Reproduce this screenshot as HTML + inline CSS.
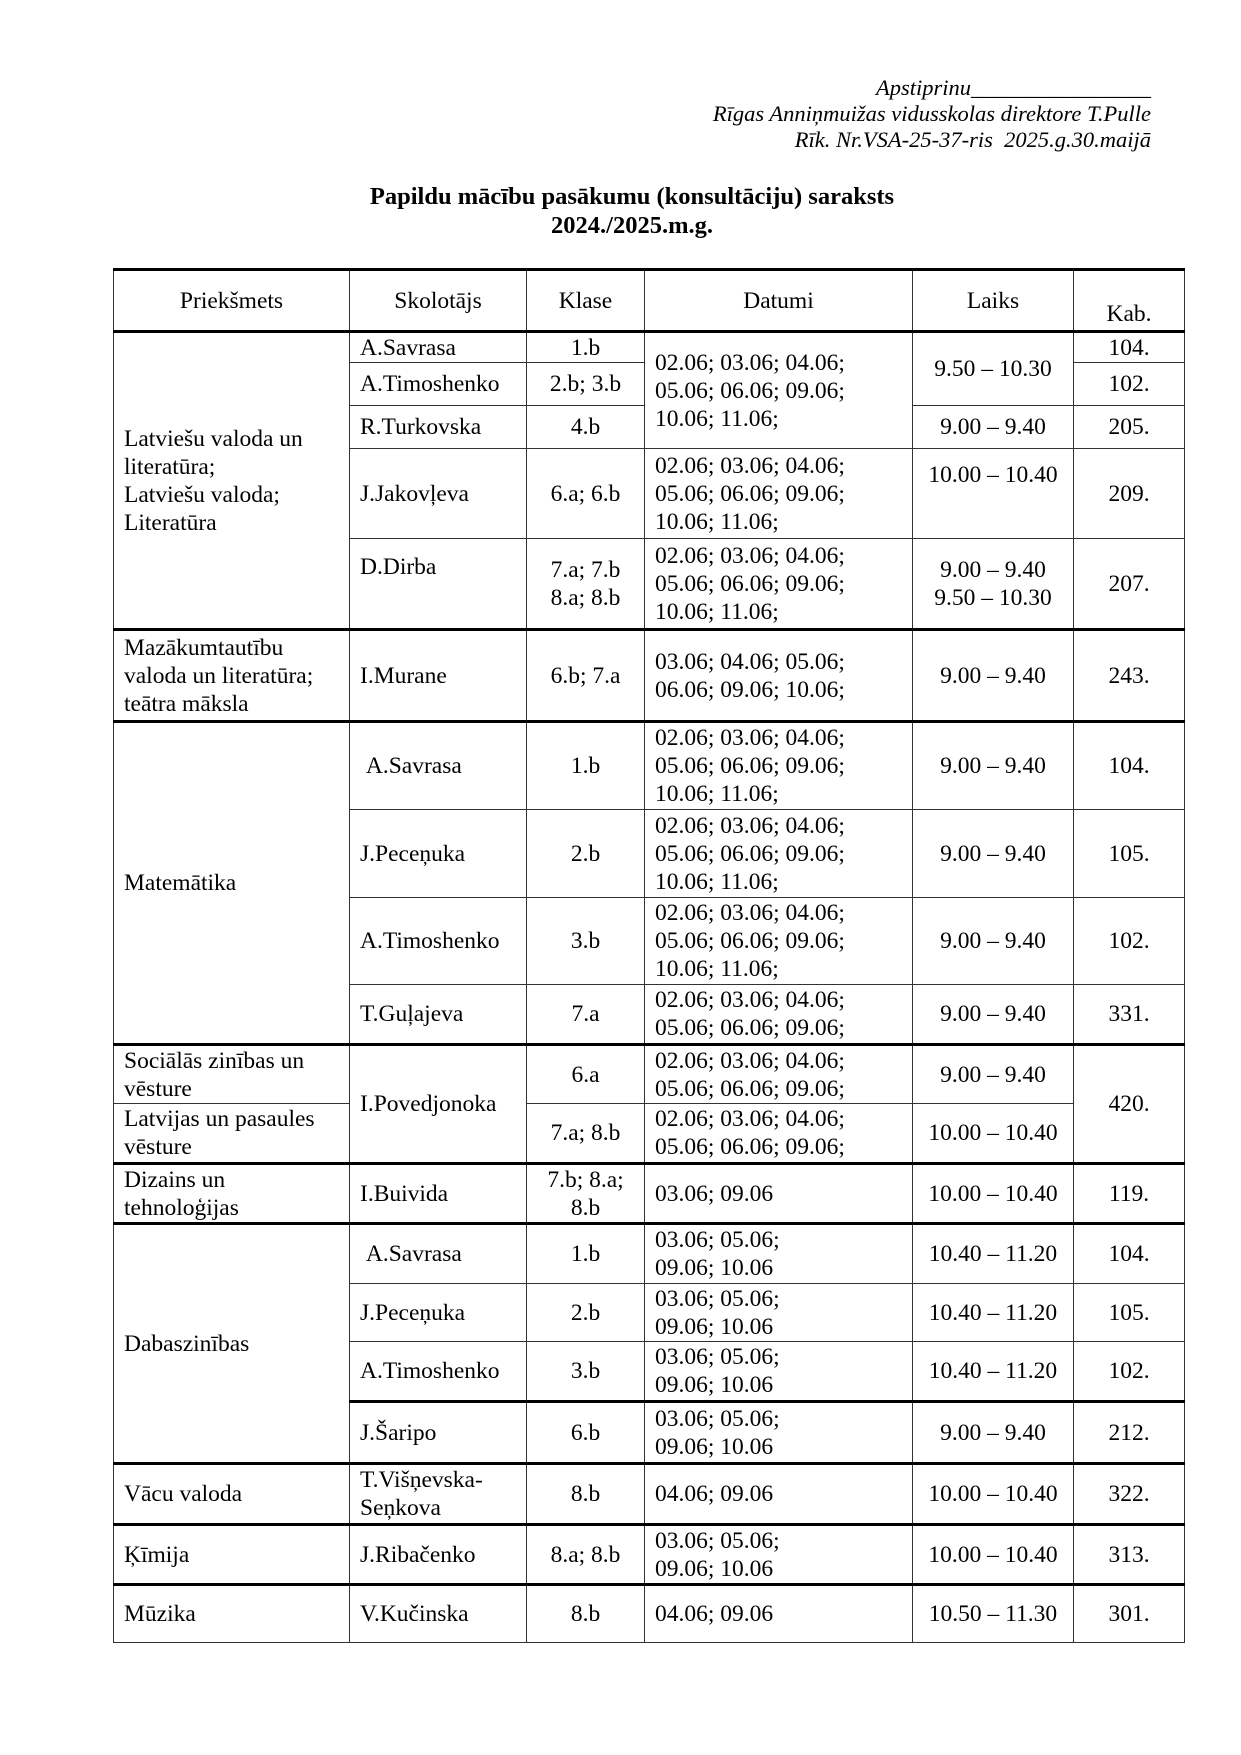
<!DOCTYPE html>
<html><head><meta charset="utf-8">
<style>
body{margin:0;width:1241px;height:1755px;background:#fff;position:relative;font-family:"Liberation Serif","DejaVu Serif","Times New Roman",Times,serif;color:#000;}
.hd{position:absolute;right:90px;font-style:italic;font-size:22.5px;line-height:26px;text-align:right;}
.title{position:absolute;left:0;width:1264px;text-align:center;font-weight:bold;font-size:24.5px;line-height:29px;}
table{position:absolute;left:113px;top:268px;width:1071px;border-collapse:collapse;table-layout:fixed;font-size:23.5px;line-height:28px;font-family:"Liberation Serif","DejaVu Serif","Times New Roman",Times,serif;}
td{border:1px solid #333;padding:0 10px;vertical-align:middle;overflow:hidden;white-space:nowrap;}
td.c{text-align:center;padding:0 2px;}
tr.t td{border-top:3px solid #000;}
tr.h td{border-bottom:3px solid #000;text-align:center;border-top:3px solid #000;}
</style></head><body>
<div class="hd" style="top:75px;">Apstiprinu________________<br>Rīgas Anniņmuižas vidusskolas direktore T.Pulle<br>Rīk. Nr.VSA-25-37-ris&nbsp; 2025.g.30.maijā</div>
<div class="title" style="top:182px;">Papildu mācību pasākumu (konsultāciju) saraksts<br>2024./2025.m.g.</div>
<table>
<colgroup><col style="width:236px"><col style="width:177px"><col style="width:118px"><col style="width:268px"><col style="width:161px"><col style="width:111px"></colgroup>
<tr class="h" style="height:62px"><td>Priekšmets</td><td>Skolotājs</td><td>Klase</td><td>Datumi</td><td>Laiks</td><td style="vertical-align:bottom;padding-bottom:2px">Kab.</td></tr>
<tr style="height:31px"><td rowspan="5" style="white-space:normal">Latviešu valoda un literatūra;<br>Latviešu valoda;<br>Literatūra</td><td>A.Savrasa</td><td class="c">1.b</td><td rowspan="3">02.06; 03.06; 04.06;<br>05.06; 06.06; 09.06;<br>10.06; 11.06;</td><td rowspan="2" class="c">9.50 – 10.30</td><td class="c">104.</td></tr>
<tr style="height:43px"><td>A.Timoshenko</td><td class="c">2.b; 3.b</td><td class="c">102.</td></tr>
<tr style="height:43px"><td>R.Turkovska</td><td class="c">4.b</td><td class="c">9.00 – 9.40</td><td class="c">205.</td></tr>
<tr style="height:90px"><td>J.Jakovļeva</td><td class="c">6.a; 6.b</td><td>02.06; 03.06; 04.06;<br>05.06; 06.06; 09.06;<br>10.06; 11.06;</td><td class="c" style="vertical-align:top;padding-top:12px">10.00 – 10.40</td><td class="c">209.</td></tr>
<tr style="height:91px"><td style="vertical-align:top;padding-top:14px">D.Dirba</td><td class="c">7.a; 7.b<br>8.a; 8.b</td><td>02.06; 03.06; 04.06;<br>05.06; 06.06; 09.06;<br>10.06; 11.06;</td><td class="c">9.00 – 9.40<br>9.50 – 10.30</td><td class="c">207.</td></tr>
<tr class="t" style="height:92px"><td>Mazākumtautību<br>valoda un literatūra;<br>teātra māksla</td><td>I.Murane</td><td class="c">6.b; 7.a</td><td>03.06; 04.06; 05.06;<br>06.06; 09.06; 10.06;</td><td class="c">9.00 – 9.40</td><td class="c">243.</td></tr>
<tr class="t" style="height:88px"><td rowspan="4">Matemātika</td><td>&nbsp;A.Savrasa</td><td class="c">1.b</td><td>02.06; 03.06; 04.06;<br>05.06; 06.06; 09.06;<br>10.06; 11.06;</td><td class="c">9.00 – 9.40</td><td class="c">104.</td></tr>
<tr style="height:88px"><td>J.Peceņuka</td><td class="c">2.b</td><td>02.06; 03.06; 04.06;<br>05.06; 06.06; 09.06;<br>10.06; 11.06;</td><td class="c">9.00 – 9.40</td><td class="c">105.</td></tr>
<tr style="height:87px"><td>A.Timoshenko</td><td class="c">3.b</td><td>02.06; 03.06; 04.06;<br>05.06; 06.06; 09.06;<br>10.06; 11.06;</td><td class="c">9.00 – 9.40</td><td class="c">102.</td></tr>
<tr style="height:60px"><td>T.Guļajeva</td><td class="c">7.a</td><td>02.06; 03.06; 04.06;<br>05.06; 06.06; 09.06;</td><td class="c">9.00 – 9.40</td><td class="c">331.</td></tr>
<tr class="t" style="height:59px"><td>Sociālās zinības un<br>vēsture</td><td rowspan="2">I.Povedjonoka</td><td class="c">6.a</td><td>02.06; 03.06; 04.06;<br>05.06; 06.06; 09.06;</td><td class="c">9.00 – 9.40</td><td rowspan="2" class="c">420.</td></tr>
<tr style="height:60px"><td>Latvijas un pasaules<br>vēsture</td><td class="c">7.a; 8.b</td><td>02.06; 03.06; 04.06;<br>05.06; 06.06; 09.06;</td><td class="c">10.00 – 10.40</td></tr>
<tr class="t" style="height:60px"><td>Dizains un<br>tehnoloģijas</td><td>I.Buivida</td><td class="c">7.b; 8.a;<br>8.b</td><td>03.06; 09.06</td><td class="c">10.00 – 10.40</td><td class="c">119.</td></tr>
<tr class="t" style="height:60px"><td rowspan="4">Dabaszinības</td><td>&nbsp;A.Savrasa</td><td class="c">1.b</td><td>03.06; 05.06;<br>09.06; 10.06</td><td class="c">10.40 – 11.20</td><td class="c">104.</td></tr>
<tr style="height:58px"><td>J.Peceņuka</td><td class="c">2.b</td><td>03.06; 05.06;<br>09.06; 10.06</td><td class="c">10.40 – 11.20</td><td class="c">105.</td></tr>
<tr style="height:60px"><td>A.Timoshenko</td><td class="c">3.b</td><td>03.06; 05.06;<br>09.06; 10.06</td><td class="c">10.40 – 11.20</td><td class="c">102.</td></tr>
<tr class="t" style="height:62px"><td>J.Šaripo</td><td class="c">6.b</td><td>03.06; 05.06;<br>09.06; 10.06</td><td class="c">9.00 – 9.40</td><td class="c">212.</td></tr>
<tr class="t" style="height:61px"><td>Vācu valoda</td><td>T.Višņevska-<br>Seņkova</td><td class="c">8.b</td><td>04.06; 09.06</td><td class="c">10.00 – 10.40</td><td class="c">322.</td></tr>
<tr class="t" style="height:60px"><td>Ķīmija</td><td>J.Ribačenko</td><td class="c">8.a; 8.b</td><td>03.06; 05.06;<br>09.06; 10.06</td><td class="c">10.00 – 10.40</td><td class="c">313.</td></tr>
<tr class="t" style="height:58px"><td>Mūzika</td><td>V.Kučinska</td><td class="c">8.b</td><td>04.06; 09.06</td><td class="c">10.50 – 11.30</td><td class="c">301.</td></tr>
</table>
</body></html>
